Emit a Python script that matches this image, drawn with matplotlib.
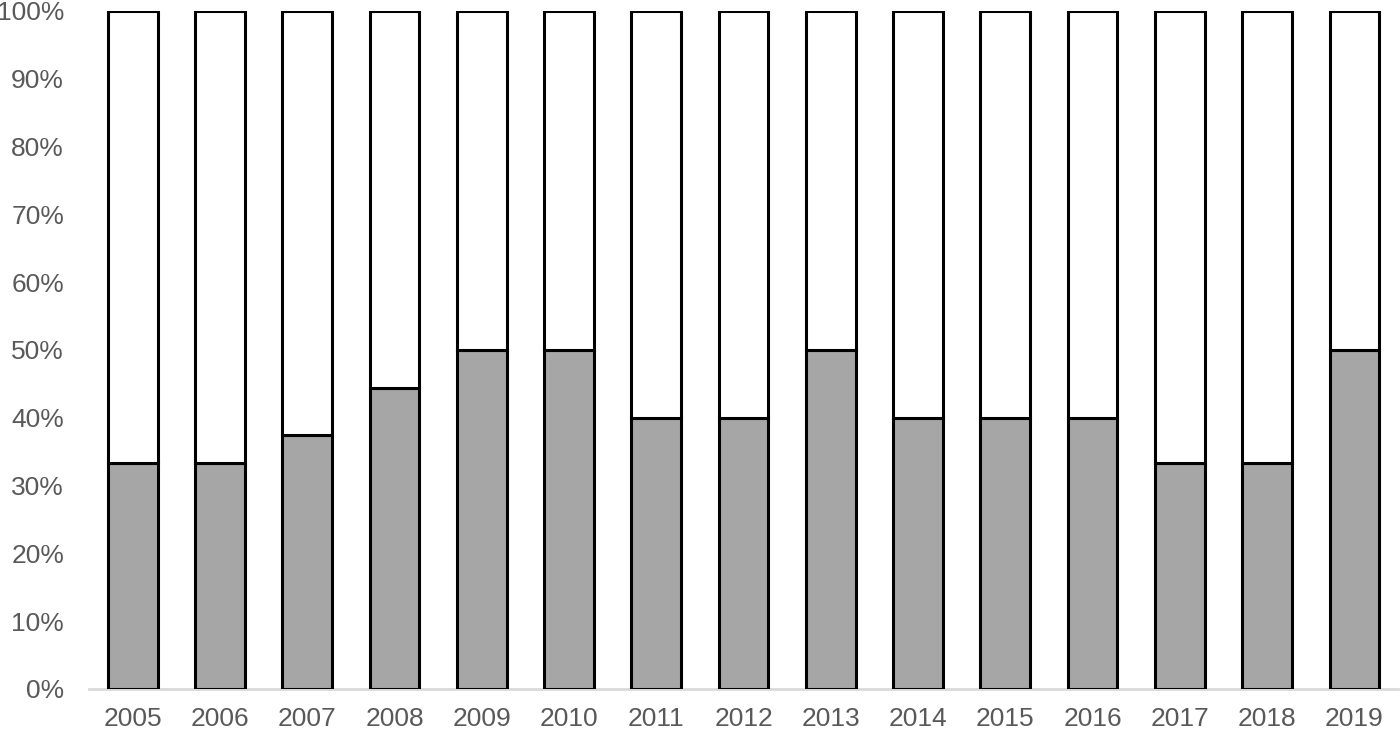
import matplotlib
matplotlib.use("Agg")
import matplotlib.pyplot as plt
import numpy as np

years = ["2005", "2006", "2007", "2008", "2009", "2010", "2011", "2012",
         "2013", "2014", "2015", "2016", "2017", "2018", "2019"]
lower = [33.3, 33.3, 37.5, 44.4, 50.0, 50.0, 40.0, 40.0,
         50.0, 40.0, 40.0, 40.0, 33.3, 33.3, 50.0]
upper = [100 - v for v in lower]

plt.rcParams['font.family'] = ['Liberation Sans', 'DejaVu Sans']

fig = plt.figure(figsize=(14, 7.31), dpi=100)
ax = fig.add_axes([0.0636, 0.0575, 0.935, 0.9275])

x = np.arange(len(years))
ax.bar(x, lower, width=0.57, color="#a6a6a6", edgecolor="black", linewidth=2.2)
ax.bar(x, upper, width=0.57, bottom=lower, color="white", edgecolor="black", linewidth=2.2)

ax.set_xlim(-0.5, len(years) - 0.5)
ax.set_ylim(0, 100)
ax.set_yticks(np.arange(0, 101, 10))
ax.set_yticklabels([f"{v}%" for v in range(0, 101, 10)])
ax.set_xticks(x)
ax.set_xticklabels(years)

for s in ["top", "right", "left"]:
    ax.spines[s].set_visible(False)
ax.spines["bottom"].set_color("#d9d9d9")
ax.spines["bottom"].set_linewidth(2)
ax.spines["bottom"].set_zorder(0)
ax.tick_params(axis="both", length=0, labelsize=19, labelcolor="#595959")
ax.tick_params(axis="x", pad=13)
ax.tick_params(axis="y", pad=18)

fig.savefig("out.png", dpi=100)
